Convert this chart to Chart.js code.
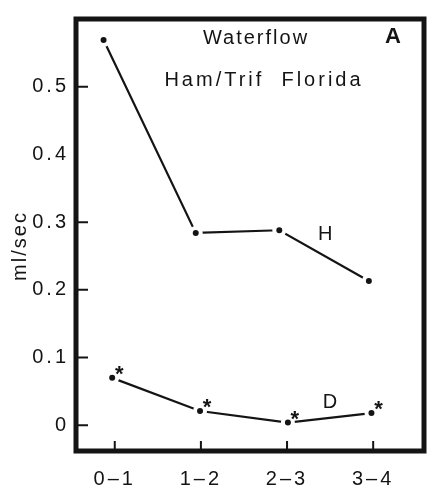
<!DOCTYPE html>
<html>
<head>
<meta charset="utf-8">
<script src="https://cdn.jsdelivr.net/npm/chart.js@4.4.1/dist/chart.umd.min.js"></script>
<style>
	html, body { margin: 0; padding: 0; background: #fff; }
	#wrap { width: 434px; height: 492px; }
</style>
</head>
<body>
<div id="wrap"><canvas id="myChart_waterflow"></canvas></div>
<script>
// data
const categories = ['0–1', '1–2', '2–3', '3–4'];
const hX = [-0.13, 0.94, 1.91, 2.95];
const hValues = [0.569, 0.284, 0.288, 0.213];
const dX = [-0.03, 0.99, 2.01, 2.98];
const dValues = [0.070, 0.021, 0.004, 0.018];
const dSignificant = [true, true, true, true];
const yTicks = [0, 0.1, 0.2, 0.3, 0.4, 0.5];
const yTickMarks = [0, 0.1, 0.2, 0.3, 0.5];

const INK = '#141414';
const FONT = "'Liberation Sans', Arial, sans-serif";

// frame, inner tick marks and the text annotations
const decorations = {
	id: 'decorations',
	beforeDraw(chart) {
		chart.ctx.letterSpacing = '3px';
	},
	afterDraw(chart) {
		const ctx = chart.ctx;
		const area = chart.chartArea;
		const xs = chart.scales.x;
		const ys = chart.scales.y;
		ctx.save();
		ctx.strokeStyle = INK;
		ctx.lineWidth = 5;
		ctx.strokeRect(area.left, area.top, area.right - area.left, area.bottom - area.top);

		ctx.lineWidth = 2;
		ctx.beginPath();
		yTickMarks.forEach(v => {
			const y = ys.getPixelForValue(v);
			ctx.moveTo(area.left, y);
			ctx.lineTo(area.left + 12, y);
		});
		categories.forEach((c, i) => {
			const x = xs.getPixelForValue(i);
			ctx.moveTo(x, area.bottom);
			ctx.lineTo(x, area.bottom - 10);
		});
		ctx.stroke();

		ctx.fillStyle = INK;
		ctx.textAlign = 'center';
		ctx.textBaseline = 'middle';
		ctx.letterSpacing = '2px';
		ctx.font = '20px ' + FONT;
		ctx.fillText('Waterflow', 256, 38);
		ctx.letterSpacing = '3px';
		ctx.fillText('Ham/Trif  Florida', 264, 80);
		ctx.letterSpacing = '0px';
		ctx.font = 'bold 22px ' + FONT;
		ctx.fillText('A', 393, 37);

		// series labels beside the third point of each line
		ctx.font = '20px ' + FONT;
		const hPts = chart.getDatasetMeta(0).data;
		const dPts = chart.getDatasetMeta(1).data;
		ctx.fillText('H', hPts[2].x + 46, hPts[2].y + 4);
		ctx.fillText('D', dPts[2].x + 42, dPts[2].y - 20);

		// significance asterisks
		ctx.font = 'bold 22px ' + FONT;
		ctx.textBaseline = 'alphabetic';
		dPts.forEach((p, i) => {
			if (dSignificant[i]) ctx.fillText('*', p.x + 7, p.y + 3);
		});

		// axis title
		ctx.save();
		ctx.translate(20, 246);
		ctx.rotate(-Math.PI / 2);
		ctx.textBaseline = 'middle';
		ctx.letterSpacing = '2px';
		ctx.font = '20px ' + FONT;
		ctx.fillText('ml/sec', 0, 0);
		ctx.restore();
		ctx.restore();
	}
};

const lineStyle = {
	borderColor: INK,
	borderWidth: 2.2,
	pointRadius: 5,
	pointBorderWidth: 4,
	pointBorderColor: '#fff',
	pointBackgroundColor: INK,
	pointHoverRadius: 5,
	tension: 0,
	fill: false,
};

const ctx = document.getElementById('myChart_waterflow').getContext('2d');
const myChart_waterflow = new Chart(ctx, {
	type: 'line',
	data: {
		datasets: [{
			label: 'H',
			data: hValues.map((v, i) => ({ x: hX[i], y: v })),
			...lineStyle,
		}, {
			label: 'D',
			data: dValues.map((v, i) => ({ x: dX[i], y: v })),
			...lineStyle,
		}]
	},
	options: {
		animation: false,
		maintainAspectRatio: false,
		responsive: true,
		layout: {
			padding: { top: 17, right: 10, left: 0, bottom: 0 }
		},
		scales: {
			x: {
				type: 'linear',
				min: -0.45,
				max: 3.59,
				afterBuildTicks: function (scale) {
					scale.ticks = categories.map((c, i) => ({ value: i }));
				},
				afterFit: function (scale) {
					scale.height = 41;
				},
				ticks: {
					color: INK,
					font: { family: FONT, size: 20 },
					padding: 16,
					maxRotation: 0,
					callback: function (value) {
						return categories[value];
					}
				},
				grid: {
					display: false,
					drawTicks: false,
				},
				border: { display: false },
			},
			y: {
				min: -0.038,
				max: 0.6,
				afterBuildTicks: function (scale) {
					scale.ticks = yTicks.map(v => ({ value: v }));
				},
				afterFit: function (scale) {
					scale.width = 76;
				},
				ticks: {
					color: INK,
					font: { family: FONT, size: 20 },
					padding: 7,
					callback: function (value) {
						return value === 0 ? '0' : value.toFixed(1);
					}
				},
				grid: {
					display: false,
					drawTicks: false,
				},
				border: { display: false },
			},
		},
		plugins: {
			legend: { display: false },
			title: { display: false },
			tooltip: { enabled: false },
		}
	},
	plugins: [decorations]
});
</script>
</body>
</html>
